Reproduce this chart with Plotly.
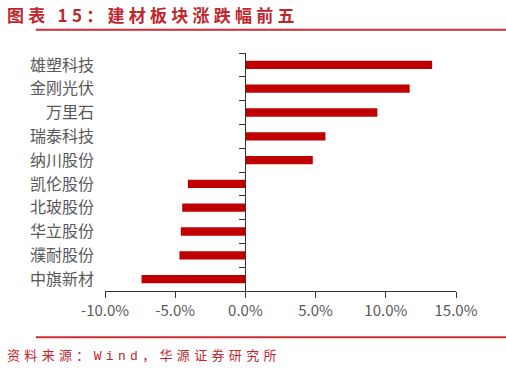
import plotly.graph_objects as go

categories = ["雄塑科技", "金刚光伏", "万里石", "瑞泰科技", "纳川股份",
              "凯伦股份", "北玻股份", "华立股份", "濮耐股份", "中旗新材"]
values = [13.3, 11.7, 9.4, 5.7, 4.8, -4.1, -4.5, -4.6, -4.7, -7.4]
x_ticks = [-10, -5, 0, 5, 10, 15]
x_tick_labels = ["-10.0%", "-5.0%", "0.0%", "5.0%", "10.0%", "15.0%"]

title_text = "图表 15：建材板块涨跌幅前五"
source_text = "资料来源：Wind，华源证券研究所"

RED = "#c00000"
LINE_RED = "#cc2e36"
GREY = "#595959"
AXIS = "#333333"
CJK = "Noto Sans CJK SC"


def spaced(s, sep):
    return sep.join(list(s))


fig = go.Figure()
fig.add_trace(go.Bar(
    x=values, y=categories, orientation="h",
    marker=dict(color=RED, line=dict(width=0)),
    width=0.35, yaxis="y", xaxis="x", showlegend=False,
))
# same data on an overlaid axis that carries the zero-position category line
fig.add_trace(go.Bar(
    x=values, y=categories, orientation="h",
    marker=dict(color="rgba(0,0,0,0)", line=dict(width=0)),
    width=0.35, yaxis="y2", xaxis="x", showlegend=False, hoverinfo="skip",
))

fig.update_layout(
    width=506, height=370,
    margin=dict(l=105, r=50, t=53, b=79),
    plot_bgcolor="white", paper_bgcolor="white",
    barmode="overlay",
    xaxis=dict(
        range=[-10, 15], tickvals=x_ticks, ticktext=x_tick_labels,
        showline=True, linecolor=AXIS, linewidth=1.3,
        ticks="outside", ticklen=6, tickcolor=AXIS, tickwidth=1.3,
        showgrid=False, zeroline=False,
        tickfont=dict(family=CJK, size=15, color=GREY),
        fixedrange=True,
    ),
    yaxis=dict(
        categoryorder="array", categoryarray=categories, autorange="reversed",
        showline=False, ticks="", showgrid=False, zeroline=False,
        tickfont=dict(family=CJK, size=16, color=GREY),
        ticklabelstandoff=10,
    ),
    yaxis2=dict(
        overlaying="y", matches="y", anchor="free", position=0.4, side="left",
        categoryorder="array", categoryarray=categories,
        showline=True, linecolor=AXIS, linewidth=1.3,
        ticks="outside", ticklen=6, tickcolor=AXIS, tickwidth=1.3,
        tickson="boundaries", showticklabels=False, showgrid=False, zeroline=False,
    ),
    shapes=[
        dict(type="line", xref="paper", yref="paper", x0=-0.197, x1=1.214,
             y0=1.098, y1=1.098, line=dict(color=LINE_RED, width=2)),
        dict(type="line", xref="paper", yref="paper", x0=-0.197, x1=1.214,
             y0=-0.194, y1=-0.194, line=dict(color=LINE_RED, width=2)),
    ],
    annotations=[
        dict(text="<b>" + spaced(title_text, "\u2005") + "</b>", xref="paper", yref="paper",
             x=-0.285, y=1.162, xanchor="left", yanchor="middle", showarrow=False,
             font=dict(family=CJK, size=17, color="#c0272d")),
        dict(text=spaced(source_text, "\u2004"), xref="paper", yref="paper",
             x=-0.285, y=-0.272, xanchor="left", yanchor="middle", showarrow=False,
             font=dict(family="Liberation Mono, " + CJK, size=13, color="#c0272d")),
    ],
)

fig.write_html("out.html")
